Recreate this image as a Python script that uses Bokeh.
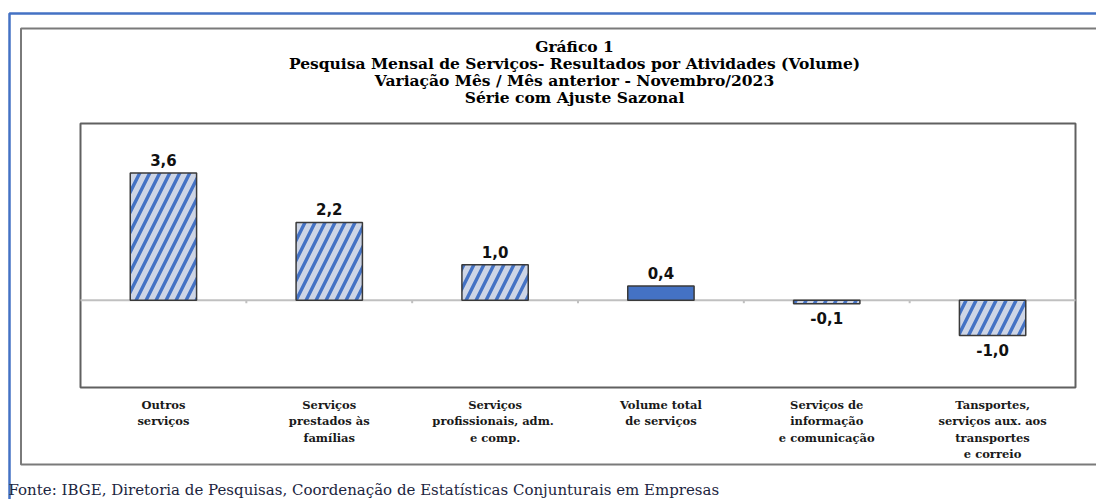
from bokeh.plotting import figure
from bokeh.models import Range1d, ColumnDataSource
from bokeh.embed import file_html
from bokeh.resources import INLINE
from bokeh.core.properties import value

# ---------------- data ----------------
title_lines = [
    "Gráfico 1",
    "Pesquisa Mensal de Serviços- Resultados por Atividades (Volume)",
    "Variação Mês / Mês anterior - Novembro/2023",
    "Série com Ajuste Sazonal",
]
categories = [
    "Outros serviços",
    "Serviços prestados às famílias",
    "Serviços profissionais, adm. e comp.",
    "Volume total de serviços",
    "Serviços de informação e comunicação",
    "Tansportes, serviços aux. aos transportes e correio",
]
category_labels = [
    "Outros\nserviços",
    "Serviços\nprestados às\nfamílias",
    "Serviços\nprofissionais,  adm.\ne comp.",
    "Volume total\nde serviços",
    "Serviços de\ninformação\ne comunicação",
    "Tansportes,\nserviços aux. aos\ntransportes\ne correio",
]
values = [3.6, 2.2, 1.0, 0.4, -0.1, -1.0]
value_labels = ["3,6", "2,2", "1,0", "0,4", "-0,1", "-1,0"]
highlight = "Volume total de serviços"
source_note = "Fonte: IBGE, Diretoria de Pesquisas, Coordenação de Estatísticas Conjunturais em Empresas"
y_min, y_max = -2.47, 5.0

# ---------------- layout (pixels) ----------------
W, H = 1096, 499
PLOT_L, PLOT_R, PLOT_T, PLOT_B = 80, 1075, 123, 387
n = len(categories)
sx = (PLOT_R - PLOT_L) / n                 # px per category
sy = (PLOT_B - PLOT_T) / (y_max - y_min)   # px per unit
GAP_ABOVE, GAP_BELOW = 13, 14              # px from bar end to label centre


def X(px):
    return (px - PLOT_L) / sx


def Y(py):
    return y_min + (PLOT_B - py) / sy


BLUE = "#4472c4"
HATCH_BG = "#cdd5e6"
SERIF = "DejaVu Serif"

p = figure(
    width=W, height=H,
    x_range=Range1d(X(0), X(W)), y_range=Range1d(Y(H), Y(0)),
    output_backend="svg", toolbar_location=None,
    x_axis_location=None, y_axis_location=None,
    min_border=0, outline_line_color=None,
    background_fill_color="white", border_fill_color="white",
)
p.xgrid.visible = False
p.ygrid.visible = False

# outer frames
p.quad(left=X(9), right=X(1300), top=Y(13), bottom=Y(800),
       fill_alpha=0, line_color=BLUE, line_width=2.5)
p.quad(left=X(20.5), right=X(1300), top=Y(28), bottom=Y(464),
       fill_alpha=0, line_color="#7a7a7a", line_width=2)

# plot box
p.quad(left=0, right=n, top=y_max, bottom=y_min,
       fill_alpha=0, line_color="#606060", line_width=2)

# zero line with small ticks at category boundaries
p.segment(x0=0, y0=0, x1=n, y1=0, line_color="#c0c0c0", line_width=2)
bounds = list(range(1, n))
p.segment(x0=bounds, y0=[0] * len(bounds), x1=bounds, y1=[-3 / sy] * len(bounds),
          line_color="#c0c0c0", line_width=2)

xs = [i + 0.5 for i in range(n)]
src = ColumnDataSource(dict(
    x=xs,
    val=values,
    catlbl=category_labels,
    fill=[BLUE if c == highlight else HATCH_BG for c in categories],
    hatch=[" " if c == highlight else "/" for c in categories],
))

p.vbar(x="x", top="val", bottom=0, width=0.4, source=src,
       fill_color="fill", hatch_pattern="hatch", hatch_color=BLUE,
       hatch_weight=3.4, hatch_scale=20,
       line_color="#3a3a3a", line_width=1.5)

# value labels: centred above positive bars, below negative bars
lab = ColumnDataSource(dict(
    x=xs,
    y=[v + GAP_ABOVE / sy if v >= 0 else v - GAP_BELOW / sy for v in values],
    t=value_labels,
))
p.text(x="x", y="y", text="t", source=lab, text_baseline="middle",
       text_align="center", text_font=value("DejaVu Sans"),
       text_font_style="bold", text_font_size="15px", text_color="#111111")

# category labels
p.text(x="x", y=Y(397), text="catlbl", source=src,
       text_baseline="top", text_align="center",
       text_font=value(SERIF), text_font_style="bold",
       text_font_size="11.5px", text_line_height=1.19, text_color="#1a1a1a")

# titles
title_src = ColumnDataSource(dict(
    x=[X(574)] * len(title_lines),
    y=[Y(py) for py in (46, 63, 80, 97)],
    t=title_lines,
))
p.text(x="x", y="y", text="t", source=title_src,
       text_align="center", text_baseline="middle",
       text_font=value(SERIF), text_font_style="bold",
       text_font_size="15.5px", text_color="#000000")

# source note
p.text(x=[X(8)], y=[Y(489)], text=[source_note],
       text_align="left", text_baseline="middle",
       text_font=value(SERIF), text_font_size="15px", text_color="#1c2540")

open("out.html", "w").write(file_html(p, INLINE))
